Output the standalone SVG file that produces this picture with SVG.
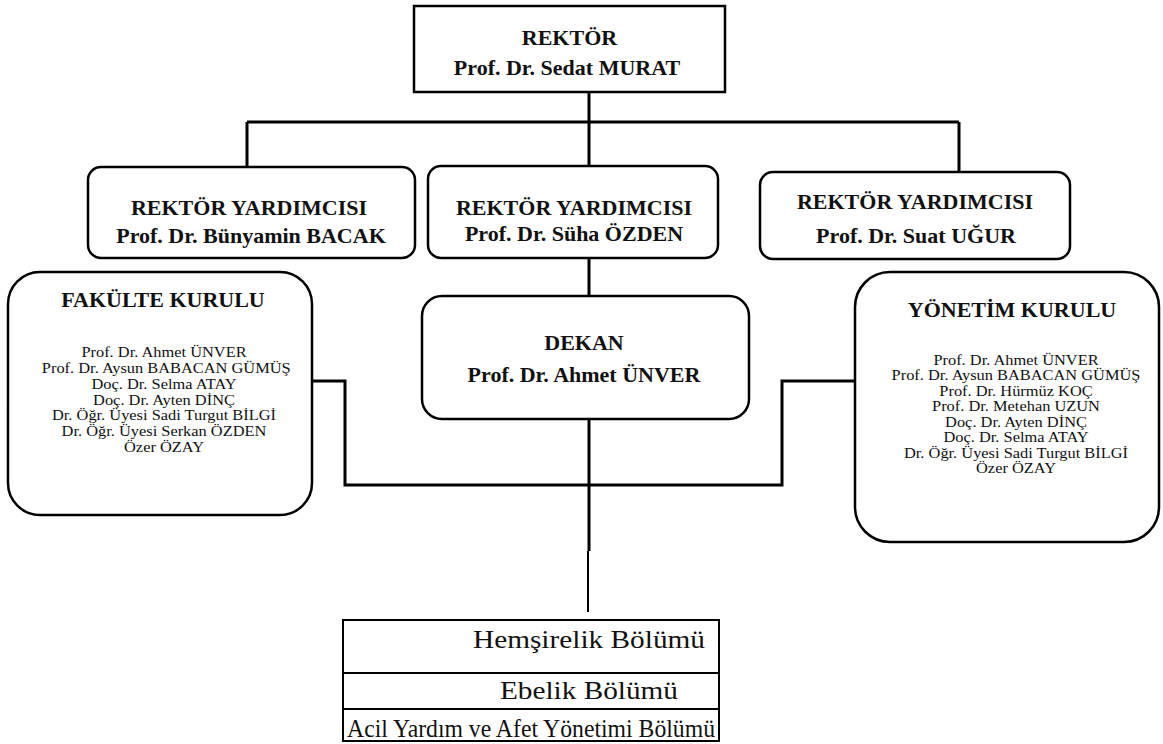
<svg xmlns="http://www.w3.org/2000/svg" width="1163" height="744" viewBox="0 0 1163 744">
<style>
.box{fill:#fff;stroke:#000;stroke-width:2.5}
.ln{fill:none;stroke:#000;stroke-width:3}
text{font-family:'Liberation Serif','DejaVu Serif',serif;fill:#111;text-anchor:middle}
.b{font-weight:bold;font-size:22px}
.m{font-size:14.5px}
.t{font-size:25px}
</style>
<rect width="1163" height="744" fill="#fff"/>
<g id="connectors">
<path class="ln" d="M589,92 V122 M247,122 H959 M247,122 V167 M589,122 V166 M959,122 V172 M589,258 V296"/>
<path class="ln" d="M312,381 H345 V485 H782 V381 H855"/>
<path class="ln" d="M589,419 V551"/>
<path fill="none" stroke="#000" stroke-width="2" d="M588,551 V612"/>
</g>
<g id="rektor">
<rect class="box" x="414" y="6" width="311" height="86"/>
<text class="b" x="569.5" y="45" font-family="Liberation Serif">REKTÖR</text>
<text class="b" x="567" y="75" font-family="Liberation Serif">Prof. Dr. Sedat MURAT</text>
</g>
<g id="yrd1">
<rect class="box" x="88" y="167" width="327" height="91" rx="13"/>
<text class="b" x="249" y="215">REKTÖR YARDIMCISI</text>
<text class="b" x="251" y="243">Prof. Dr. Bünyamin BACAK</text>
</g>
<g id="yrd2">
<rect class="box" x="428" y="166" width="290" height="92" rx="13"/>
<text class="b" x="574" y="215">REKTÖR YARDIMCISI</text>
<text class="b" x="574" y="241">Prof. Dr. Süha ÖZDEN</text>
</g>
<g id="yrd3">
<rect class="box" x="760" y="172" width="310" height="87" rx="13"/>
<text class="b" x="915" y="209">REKTÖR YARDIMCISI</text>
<text class="b" x="916" y="243">Prof. Dr. Suat UĞUR</text>
</g>
<g id="dekan">
<rect class="box" x="422" y="296" width="327" height="123" rx="20"/>
<text class="b" x="584" y="350">DEKAN</text>
<text class="b" x="584" y="382">Prof. Dr. Ahmet ÜNVER</text>
</g>
<g id="fakulte">
<rect class="box" x="8" y="272" width="304" height="243" rx="32"/>
<text class="b" x="163" y="307">FAKÜLTE KURULU</text>
<g transform="translate(164,0) scale(1.13,1)">
<text class="m" x="0" y="357">Prof. Dr. Ahmet ÜNVER</text>
<text class="m" x="2" y="373">Prof. Dr. Aysun BABACAN GÜMÜŞ</text>
<text class="m" x="0" y="389">Doç. Dr. Selma ATAY</text>
<text class="m" x="0" y="405">Doç. Dr. Ayten DİNÇ</text>
<text class="m" x="0" y="420">Dr. Öğr. Üyesi Sadi Turgut BİLGİ</text>
<text class="m" x="0" y="436">Dr. Öğr. Üyesi Serkan ÖZDEN</text>
<text class="m" x="0" y="452">Özer ÖZAY</text>
</g>
</g>
<g id="yonetim">
<rect class="box" x="855" y="272" width="304" height="270" rx="35"/>
<text class="b" x="1012" y="317">YÖNETİM KURULU</text>
<g transform="translate(1016,0) scale(1.13,1)">
<text class="m" x="0" y="365">Prof. Dr. Ahmet ÜNVER</text>
<text class="m" x="0" y="380">Prof. Dr. Aysun BABACAN GÜMÜŞ</text>
<text class="m" x="0" y="396">Prof. Dr. Hürmüz KOÇ</text>
<text class="m" x="0" y="411">Prof. Dr. Metehan UZUN</text>
<text class="m" x="0" y="427">Doç. Dr. Ayten DİNÇ</text>
<text class="m" x="0" y="442">Doç. Dr. Selma ATAY</text>
<text class="m" x="0" y="458">Dr. Öğr. Üyesi Sadi Turgut BİLGİ</text>
<text class="m" x="0" y="473">Özer ÖZAY</text>
</g>
</g>
<g id="bolumler">
<rect fill="#fff" stroke="#000" stroke-width="2" x="343" y="620" width="376" height="121"/>
<path fill="none" stroke="#000" stroke-width="2" d="M343,673 H719 M343,709 H719"/>
<text class="t" x="589" y="648" textLength="232" lengthAdjust="spacingAndGlyphs">Hemşirelik Bölümü</text>
<text class="t" x="589" y="699" textLength="178" lengthAdjust="spacingAndGlyphs">Ebelik Bölümü</text>
<text class="t" x="531" y="737" textLength="368" lengthAdjust="spacingAndGlyphs">Acil Yardım ve Afet Yönetimi Bölümü</text>
</g>
</svg>
